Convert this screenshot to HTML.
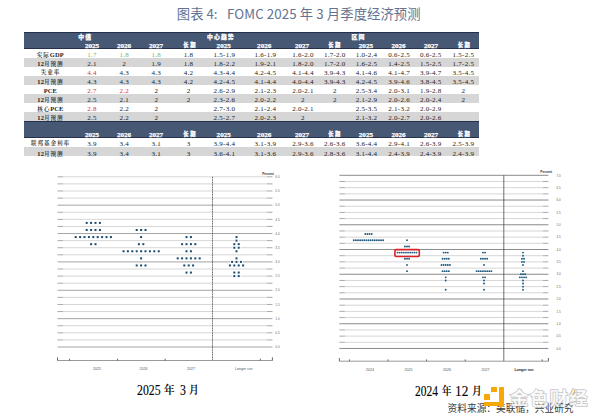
<!DOCTYPE html><html><head><meta charset="utf-8"><title>FOMC</title><style>
*{margin:0;padding:0;box-sizing:border-box}
html,body{width:600px;height:419px;background:#fff;overflow:hidden}
body{position:relative;font-family:"Liberation Serif","Noto Serif CJK SC",serif}
.a{position:absolute}
.t{position:absolute;white-space:nowrap;transform:translateX(-50%);line-height:1}
.num{font-family:"Liberation Serif",serif;font-size:7px;color:#1a1a1a;letter-spacing:0.25px}
.lab{font-family:"Liberation Serif","Noto Serif CJK SC",serif;font-size:5.6px;color:#1a1a1a;letter-spacing:0.9px;font-weight:600}
.hd{font-family:"Liberation Serif","Noto Sans CJK SC",serif;font-size:7.1px;-webkit-text-stroke:0.25px #fff;color:#fff;font-weight:bold}
.lt{font-size:6.4px;letter-spacing:0.2px}
.hs{font-size:5.3px !important;letter-spacing:1.5px !important}
.hg{font-family:"Noto Sans CJK SC",sans-serif;font-size:5.8px;color:#fff;font-weight:900;letter-spacing:1.2px;-webkit-text-stroke:0.25px #fff}
</style></head><body>
<div style="position:absolute;top:4px;font-family:'Noto Sans CJK SC','Liberation Sans',sans-serif;font-size:13.3px;line-height:19px;color:#637290;white-space:nowrap;letter-spacing:0.1px;left:176.8px">图表</div>
<div style="position:absolute;top:4px;font-family:'Noto Sans CJK SC','Liberation Sans',sans-serif;font-size:13.3px;line-height:19px;color:#637290;white-space:nowrap;letter-spacing:0.1px;left:206.4px">4:</div>
<div style="position:absolute;top:4px;font-family:'Noto Sans CJK SC','Liberation Sans',sans-serif;font-size:13.3px;line-height:19px;color:#637290;white-space:nowrap;letter-spacing:0.1px;left:227.0px">FOMC 2025 年 3 月季度经济预测</div>
<div class="a" style="left:24px;top:32px;width:454.5px;height:16.5px;background:#475874;border-top:1px solid #26304a;border-bottom:1px solid #26304a"></div>
<div class="a" style="left:24px;top:58px;width:454.5px;height:9px;background:#d7d6d6;"></div>
<div class="a" style="left:24px;top:76px;width:454.5px;height:9px;background:#d7d6d6;"></div>
<div class="a" style="left:24px;top:94px;width:454.5px;height:9px;background:#d7d6d6;"></div>
<div class="a" style="left:24px;top:112px;width:454.5px;height:9px;background:#d7d6d6;"></div>
<div class="a" style="left:24px;top:121px;width:454.5px;height:16.80000000000001px;background:#475874;border-top:1px solid #26304a;border-bottom:1px solid #26304a"></div>
<div class="a" style="left:24px;top:147.2px;width:454.5px;height:8.800000000000011px;background:#d7d6d6;"></div>
<div class="t hg" style="left:85.3px;top:33.8px;">中值</div>
<div class="t hg" style="left:221px;top:33.8px;">中心趋势</div>
<div class="t hg" style="left:358.5px;top:33.8px;">区间</div>
<div class="t hd" style="left:92px;top:42.6px;">2025</div>
<div class="t hd" style="left:124px;top:42.6px;">2026</div>
<div class="t hd" style="left:156px;top:42.6px;">2027</div>
<div class="t hg hs" style="left:190.15px;top:42.9px;">长期</div>
<div class="t hd" style="left:223.7px;top:42.6px;">2025</div>
<div class="t hd" style="left:264.2px;top:42.6px;">2026</div>
<div class="t hd" style="left:302px;top:42.6px;">2027</div>
<div class="t hg hs" style="left:334.95px;top:42.9px;">长期</div>
<div class="t hd" style="left:365.9px;top:42.6px;">2025</div>
<div class="t hd" style="left:398.5px;top:42.6px;">2026</div>
<div class="t hd" style="left:431px;top:42.6px;">2027</div>
<div class="t hg hs" style="left:464.45px;top:42.9px;">长期</div>
<div class="t hd" style="left:92px;top:131.8px;">2025</div>
<div class="t hd" style="left:124px;top:131.8px;">2026</div>
<div class="t hd" style="left:156px;top:131.8px;">2027</div>
<div class="t hg hs" style="left:190.15px;top:132.0px;">长期</div>
<div class="t hd" style="left:223.7px;top:131.8px;">2025</div>
<div class="t hd" style="left:264.2px;top:131.8px;">2026</div>
<div class="t hd" style="left:302px;top:131.8px;">2027</div>
<div class="t hg hs" style="left:334.95px;top:132.0px;">长期</div>
<div class="t hd" style="left:365.9px;top:131.8px;">2025</div>
<div class="t hd" style="left:398.5px;top:131.8px;">2026</div>
<div class="t hd" style="left:431px;top:131.8px;">2027</div>
<div class="t hg hs" style="left:464.45px;top:132.0px;">长期</div>
<div class="t lab" style="left:50.4px;top:51.8px;">实际<span class="lt">GDP</span></div>
<div class="t num" style="left:91.95px;top:51.8px;color:#7db45e;">1.7</div>
<div class="t num" style="left:124.15px;top:51.8px;color:#7db45e;">1.8</div>
<div class="t num" style="left:156.25px;top:51.8px;color:#7db45e;">1.8</div>
<div class="t num" style="left:188.55px;top:51.8px;">1.8</div>
<div class="t num" style="left:224.35px;top:51.8px;">1.5-1.9</div>
<div class="t num" style="left:265.34999999999997px;top:51.8px;">1.6-1.9</div>
<div class="t num" style="left:302.95px;top:51.8px;">1.6-2.0</div>
<div class="t num" style="left:334.75px;top:51.8px;">1.7-2.0</div>
<div class="t num" style="left:366.45px;top:51.8px;">1.0-2.4</div>
<div class="t num" style="left:399.15px;top:51.8px;">0.6-2.5</div>
<div class="t num" style="left:430.75px;top:51.8px;">0.6-2.5</div>
<div class="t num" style="left:463.34999999999997px;top:51.8px;">1.5-2.5</div>
<div class="t lab" style="left:50.4px;top:61.3px;"><span class="lt">12</span>月预测</div>
<div class="t num" style="left:91.95px;top:61.3px;">2.1</div>
<div class="t num" style="left:124.15px;top:61.3px;">2</div>
<div class="t num" style="left:156.25px;top:61.3px;">1.9</div>
<div class="t num" style="left:188.55px;top:61.3px;">1.8</div>
<div class="t num" style="left:224.35px;top:61.3px;">1.8-2.2</div>
<div class="t num" style="left:265.34999999999997px;top:61.3px;">1.9-2.1</div>
<div class="t num" style="left:302.95px;top:61.3px;">1.8-2.0</div>
<div class="t num" style="left:334.75px;top:61.3px;">1.7-2.0</div>
<div class="t num" style="left:366.45px;top:61.3px;">1.6-2.5</div>
<div class="t num" style="left:399.15px;top:61.3px;">1.4-2.5</div>
<div class="t num" style="left:430.75px;top:61.3px;">1.5-2.5</div>
<div class="t num" style="left:463.34999999999997px;top:61.3px;">1.7-2.5</div>
<div class="t lab" style="left:50.4px;top:70.3px;">失业率</div>
<div class="t num" style="left:91.95px;top:70.3px;color:#db3232;">4.4</div>
<div class="t num" style="left:124.15px;top:70.3px;">4.3</div>
<div class="t num" style="left:156.25px;top:70.3px;">4.3</div>
<div class="t num" style="left:188.55px;top:70.3px;">4.2</div>
<div class="t num" style="left:224.35px;top:70.3px;">4.3-4.4</div>
<div class="t num" style="left:265.34999999999997px;top:70.3px;">4.2-4.5</div>
<div class="t num" style="left:302.95px;top:70.3px;">4.1-4.4</div>
<div class="t num" style="left:334.75px;top:70.3px;">3.9-4.3</div>
<div class="t num" style="left:366.45px;top:70.3px;">4.1-4.6</div>
<div class="t num" style="left:399.15px;top:70.3px;">4.1-4.7</div>
<div class="t num" style="left:430.75px;top:70.3px;">3.9-4.7</div>
<div class="t num" style="left:463.34999999999997px;top:70.3px;">3.5-4.5</div>
<div class="t lab" style="left:50.4px;top:79.3px;"><span class="lt">12</span>月预测</div>
<div class="t num" style="left:91.95px;top:79.3px;">4.3</div>
<div class="t num" style="left:124.15px;top:79.3px;">4.3</div>
<div class="t num" style="left:156.25px;top:79.3px;">4.3</div>
<div class="t num" style="left:188.55px;top:79.3px;">4.2</div>
<div class="t num" style="left:224.35px;top:79.3px;">4.2-4.5</div>
<div class="t num" style="left:265.34999999999997px;top:79.3px;">4.1-4.4</div>
<div class="t num" style="left:302.95px;top:79.3px;">4.0-4.4</div>
<div class="t num" style="left:334.75px;top:79.3px;">3.9-4.3</div>
<div class="t num" style="left:366.45px;top:79.3px;">4.2-4.5</div>
<div class="t num" style="left:399.15px;top:79.3px;">3.9-4.6</div>
<div class="t num" style="left:430.75px;top:79.3px;">3.8-4.5</div>
<div class="t num" style="left:463.34999999999997px;top:79.3px;">3.5-4.5</div>
<div class="t lab" style="left:50.4px;top:88.3px;"><span class="lt">PCE</span></div>
<div class="t num" style="left:91.95px;top:88.3px;color:#db3232;">2.7</div>
<div class="t num" style="left:124.15px;top:88.3px;color:#db3232;">2.2</div>
<div class="t num" style="left:156.25px;top:88.3px;">2</div>
<div class="t num" style="left:188.55px;top:88.3px;">2</div>
<div class="t num" style="left:224.35px;top:88.3px;">2.6-2.9</div>
<div class="t num" style="left:265.34999999999997px;top:88.3px;">2.1-2.3</div>
<div class="t num" style="left:302.95px;top:88.3px;">2.0-2.1</div>
<div class="t num" style="left:334.75px;top:88.3px;">2</div>
<div class="t num" style="left:366.45px;top:88.3px;">2.5-3.4</div>
<div class="t num" style="left:399.15px;top:88.3px;">2.0-3.1</div>
<div class="t num" style="left:430.75px;top:88.3px;">1.9-2.8</div>
<div class="t num" style="left:463.34999999999997px;top:88.3px;">2</div>
<div class="t lab" style="left:50.4px;top:97.3px;"><span class="lt">12</span>月预测</div>
<div class="t num" style="left:91.95px;top:97.3px;">2.5</div>
<div class="t num" style="left:124.15px;top:97.3px;">2.1</div>
<div class="t num" style="left:156.25px;top:97.3px;">2</div>
<div class="t num" style="left:188.55px;top:97.3px;">2</div>
<div class="t num" style="left:224.35px;top:97.3px;">2.3-2.6</div>
<div class="t num" style="left:265.34999999999997px;top:97.3px;">2.0-2.2</div>
<div class="t num" style="left:302.95px;top:97.3px;">2</div>
<div class="t num" style="left:334.75px;top:97.3px;">2</div>
<div class="t num" style="left:366.45px;top:97.3px;">2.1-2.9</div>
<div class="t num" style="left:399.15px;top:97.3px;">2.0-2.6</div>
<div class="t num" style="left:430.75px;top:97.3px;">2.0-2.4</div>
<div class="t num" style="left:463.34999999999997px;top:97.3px;">2</div>
<div class="t lab" style="left:50.4px;top:106.3px;">核心<span class="lt">PCE</span></div>
<div class="t num" style="left:91.95px;top:106.3px;color:#db3232;">2.8</div>
<div class="t num" style="left:124.15px;top:106.3px;">2.2</div>
<div class="t num" style="left:156.25px;top:106.3px;">2</div>
<div class="t num" style="left:224.35px;top:106.3px;">2.7-3.0</div>
<div class="t num" style="left:265.34999999999997px;top:106.3px;">2.1-2.4</div>
<div class="t num" style="left:302.95px;top:106.3px;">2.0-2.1</div>
<div class="t num" style="left:366.45px;top:106.3px;">2.5-3.5</div>
<div class="t num" style="left:399.15px;top:106.3px;">2.1-3.2</div>
<div class="t num" style="left:430.75px;top:106.3px;">2.0-2.9</div>
<div class="t lab" style="left:50.4px;top:115.3px;"><span class="lt">12</span>月预测</div>
<div class="t num" style="left:91.95px;top:115.3px;">2.5</div>
<div class="t num" style="left:124.15px;top:115.3px;">2.2</div>
<div class="t num" style="left:156.25px;top:115.3px;">2</div>
<div class="t num" style="left:224.35px;top:115.3px;">2.5-2.7</div>
<div class="t num" style="left:265.34999999999997px;top:115.3px;">2.0-2.3</div>
<div class="t num" style="left:302.95px;top:115.3px;">2</div>
<div class="t num" style="left:366.45px;top:115.3px;">2.1-3.2</div>
<div class="t num" style="left:399.15px;top:115.3px;">2.0-2.7</div>
<div class="t num" style="left:430.75px;top:115.3px;">2.0-2.6</div>
<div class="t lab" style="left:50.4px;top:141.10000000000002px;">联邦基金利率</div>
<div class="t num" style="left:91.95px;top:141.10000000000002px;">3.9</div>
<div class="t num" style="left:124.15px;top:141.10000000000002px;">3.4</div>
<div class="t num" style="left:156.25px;top:141.10000000000002px;">3.1</div>
<div class="t num" style="left:188.55px;top:141.10000000000002px;">3</div>
<div class="t num" style="left:224.35px;top:141.10000000000002px;">3.9-4.4</div>
<div class="t num" style="left:265.34999999999997px;top:141.10000000000002px;">3.1-3.9</div>
<div class="t num" style="left:302.95px;top:141.10000000000002px;">2.9-3.6</div>
<div class="t num" style="left:334.75px;top:141.10000000000002px;">2.6-3.6</div>
<div class="t num" style="left:366.45px;top:141.10000000000002px;">3.6-4.4</div>
<div class="t num" style="left:399.15px;top:141.10000000000002px;">2.9-4.1</div>
<div class="t num" style="left:430.75px;top:141.10000000000002px;">2.6-3.9</div>
<div class="t num" style="left:463.34999999999997px;top:141.10000000000002px;">2.5-3.9</div>
<div class="t lab" style="left:50.4px;top:150.5px;"><span class="lt">12</span>月预测</div>
<div class="t num" style="left:91.95px;top:150.5px;">3.9</div>
<div class="t num" style="left:124.15px;top:150.5px;">3.4</div>
<div class="t num" style="left:156.25px;top:150.5px;">3.1</div>
<div class="t num" style="left:188.55px;top:150.5px;">3</div>
<div class="t num" style="left:224.35px;top:150.5px;">3.6-4.1</div>
<div class="t num" style="left:265.34999999999997px;top:150.5px;">3.1-3.6</div>
<div class="t num" style="left:302.95px;top:150.5px;">2.9-3.6</div>
<div class="t num" style="left:334.75px;top:150.5px;">2.8-3.6</div>
<div class="t num" style="left:366.45px;top:150.5px;">3.1-4.4</div>
<div class="t num" style="left:399.15px;top:150.5px;">2.4-3.9</div>
<div class="t num" style="left:430.75px;top:150.5px;">2.4-3.9</div>
<div class="t num" style="left:463.34999999999997px;top:150.5px;">2.4-3.9</div>
<svg class="a" style="left:0;top:0" width="600" height="419" viewBox="0 0 600 419" font-family="Liberation Sans, sans-serif"><line x1="63.0" y1="176.80" x2="267.0" y2="176.80" stroke="#c8c8c8" stroke-width="0.75"/><line x1="57.5" y1="176.80" x2="63.0" y2="176.80" stroke="#a0a0a0" stroke-width="0.9"/><line x1="267.0" y1="176.80" x2="272.5" y2="176.80" stroke="#a0a0a0" stroke-width="0.9"/><text x="275.3" y="178.00" font-size="3.1" fill="#666">6.0</text><line x1="63.0" y1="183.89" x2="267.0" y2="183.89" stroke="#c8c8c8" stroke-width="0.75"/><line x1="57.5" y1="183.89" x2="63.0" y2="183.89" stroke="#a0a0a0" stroke-width="0.9"/><line x1="267.0" y1="183.89" x2="272.5" y2="183.89" stroke="#a0a0a0" stroke-width="0.9"/><line x1="63.0" y1="190.99" x2="267.0" y2="190.99" stroke="#c8c8c8" stroke-width="0.75"/><line x1="57.5" y1="190.99" x2="63.0" y2="190.99" stroke="#a0a0a0" stroke-width="0.9"/><line x1="267.0" y1="190.99" x2="272.5" y2="190.99" stroke="#a0a0a0" stroke-width="0.9"/><text x="275.3" y="192.19" font-size="3.1" fill="#666">5.5</text><line x1="63.0" y1="198.08" x2="267.0" y2="198.08" stroke="#c8c8c8" stroke-width="0.75"/><line x1="57.5" y1="198.08" x2="63.0" y2="198.08" stroke="#a0a0a0" stroke-width="0.9"/><line x1="267.0" y1="198.08" x2="272.5" y2="198.08" stroke="#a0a0a0" stroke-width="0.9"/><line x1="57.5" y1="205.17" x2="272.5" y2="205.17" stroke="#9a9a9a" stroke-width="0.9"/><text x="275.3" y="206.37" font-size="3.1" fill="#666">5.0</text><line x1="63.0" y1="212.26" x2="267.0" y2="212.26" stroke="#c8c8c8" stroke-width="0.75"/><line x1="57.5" y1="212.26" x2="63.0" y2="212.26" stroke="#a0a0a0" stroke-width="0.9"/><line x1="267.0" y1="212.26" x2="272.5" y2="212.26" stroke="#a0a0a0" stroke-width="0.9"/><line x1="63.0" y1="219.36" x2="267.0" y2="219.36" stroke="#c8c8c8" stroke-width="0.75"/><line x1="57.5" y1="219.36" x2="63.0" y2="219.36" stroke="#a0a0a0" stroke-width="0.9"/><line x1="267.0" y1="219.36" x2="272.5" y2="219.36" stroke="#a0a0a0" stroke-width="0.9"/><text x="275.3" y="220.56" font-size="3.1" fill="#666">4.5</text><line x1="63.0" y1="226.45" x2="267.0" y2="226.45" stroke="#c8c8c8" stroke-width="0.75"/><line x1="57.5" y1="226.45" x2="63.0" y2="226.45" stroke="#a0a0a0" stroke-width="0.9"/><line x1="267.0" y1="226.45" x2="272.5" y2="226.45" stroke="#a0a0a0" stroke-width="0.9"/><line x1="57.5" y1="233.54" x2="272.5" y2="233.54" stroke="#9a9a9a" stroke-width="0.9"/><text x="275.3" y="234.74" font-size="3.1" fill="#666">4.0</text><line x1="63.0" y1="240.63" x2="267.0" y2="240.63" stroke="#c8c8c8" stroke-width="0.75"/><line x1="57.5" y1="240.63" x2="63.0" y2="240.63" stroke="#a0a0a0" stroke-width="0.9"/><line x1="267.0" y1="240.63" x2="272.5" y2="240.63" stroke="#a0a0a0" stroke-width="0.9"/><line x1="63.0" y1="247.73" x2="267.0" y2="247.73" stroke="#c8c8c8" stroke-width="0.75"/><line x1="57.5" y1="247.73" x2="63.0" y2="247.73" stroke="#a0a0a0" stroke-width="0.9"/><line x1="267.0" y1="247.73" x2="272.5" y2="247.73" stroke="#a0a0a0" stroke-width="0.9"/><text x="275.3" y="248.93" font-size="3.1" fill="#666">3.5</text><line x1="63.0" y1="254.82" x2="267.0" y2="254.82" stroke="#c8c8c8" stroke-width="0.75"/><line x1="57.5" y1="254.82" x2="63.0" y2="254.82" stroke="#a0a0a0" stroke-width="0.9"/><line x1="267.0" y1="254.82" x2="272.5" y2="254.82" stroke="#a0a0a0" stroke-width="0.9"/><line x1="57.5" y1="261.91" x2="272.5" y2="261.91" stroke="#9a9a9a" stroke-width="0.9"/><text x="275.3" y="263.11" font-size="3.1" fill="#666">3.0</text><line x1="63.0" y1="269.00" x2="267.0" y2="269.00" stroke="#c8c8c8" stroke-width="0.75"/><line x1="57.5" y1="269.00" x2="63.0" y2="269.00" stroke="#a0a0a0" stroke-width="0.9"/><line x1="267.0" y1="269.00" x2="272.5" y2="269.00" stroke="#a0a0a0" stroke-width="0.9"/><line x1="63.0" y1="276.10" x2="267.0" y2="276.10" stroke="#c8c8c8" stroke-width="0.75"/><line x1="57.5" y1="276.10" x2="63.0" y2="276.10" stroke="#a0a0a0" stroke-width="0.9"/><line x1="267.0" y1="276.10" x2="272.5" y2="276.10" stroke="#a0a0a0" stroke-width="0.9"/><text x="275.3" y="277.30" font-size="3.1" fill="#666">2.5</text><line x1="63.0" y1="283.19" x2="267.0" y2="283.19" stroke="#c8c8c8" stroke-width="0.75"/><line x1="57.5" y1="283.19" x2="63.0" y2="283.19" stroke="#a0a0a0" stroke-width="0.9"/><line x1="267.0" y1="283.19" x2="272.5" y2="283.19" stroke="#a0a0a0" stroke-width="0.9"/><line x1="57.5" y1="290.28" x2="272.5" y2="290.28" stroke="#9a9a9a" stroke-width="0.9"/><text x="275.3" y="291.48" font-size="3.1" fill="#666">2.0</text><line x1="63.0" y1="297.37" x2="267.0" y2="297.37" stroke="#c8c8c8" stroke-width="0.75"/><line x1="57.5" y1="297.37" x2="63.0" y2="297.37" stroke="#a0a0a0" stroke-width="0.9"/><line x1="267.0" y1="297.37" x2="272.5" y2="297.37" stroke="#a0a0a0" stroke-width="0.9"/><line x1="63.0" y1="304.47" x2="267.0" y2="304.47" stroke="#c8c8c8" stroke-width="0.75"/><line x1="57.5" y1="304.47" x2="63.0" y2="304.47" stroke="#a0a0a0" stroke-width="0.9"/><line x1="267.0" y1="304.47" x2="272.5" y2="304.47" stroke="#a0a0a0" stroke-width="0.9"/><text x="275.3" y="305.67" font-size="3.1" fill="#666">1.5</text><line x1="63.0" y1="311.56" x2="267.0" y2="311.56" stroke="#c8c8c8" stroke-width="0.75"/><line x1="57.5" y1="311.56" x2="63.0" y2="311.56" stroke="#a0a0a0" stroke-width="0.9"/><line x1="267.0" y1="311.56" x2="272.5" y2="311.56" stroke="#a0a0a0" stroke-width="0.9"/><line x1="57.5" y1="318.65" x2="272.5" y2="318.65" stroke="#9a9a9a" stroke-width="0.9"/><text x="275.3" y="319.85" font-size="3.1" fill="#666">1.0</text><line x1="63.0" y1="325.74" x2="267.0" y2="325.74" stroke="#c8c8c8" stroke-width="0.75"/><line x1="57.5" y1="325.74" x2="63.0" y2="325.74" stroke="#a0a0a0" stroke-width="0.9"/><line x1="267.0" y1="325.74" x2="272.5" y2="325.74" stroke="#a0a0a0" stroke-width="0.9"/><line x1="63.0" y1="332.84" x2="267.0" y2="332.84" stroke="#c8c8c8" stroke-width="0.75"/><line x1="57.5" y1="332.84" x2="63.0" y2="332.84" stroke="#a0a0a0" stroke-width="0.9"/><line x1="267.0" y1="332.84" x2="272.5" y2="332.84" stroke="#a0a0a0" stroke-width="0.9"/><text x="275.3" y="334.04" font-size="3.1" fill="#666">0.5</text><line x1="63.0" y1="339.93" x2="267.0" y2="339.93" stroke="#c8c8c8" stroke-width="0.75"/><line x1="57.5" y1="339.93" x2="63.0" y2="339.93" stroke="#a0a0a0" stroke-width="0.9"/><line x1="267.0" y1="339.93" x2="272.5" y2="339.93" stroke="#a0a0a0" stroke-width="0.9"/><line x1="57.5" y1="347.02" x2="272.5" y2="347.02" stroke="#9a9a9a" stroke-width="0.9"/><text x="275.3" y="348.22" font-size="3.1" fill="#666">0.0</text><line x1="212.5" y1="176.8" x2="212.5" y2="360.5" stroke="#333" stroke-width="0.7" stroke-dasharray="1.2 0.5"/><line x1="57.5" y1="360.5" x2="272.5" y2="360.5" stroke="#808080" stroke-width="0.8"/><line x1="57.5" y1="360.5" x2="57.5" y2="357.3" stroke="#444" stroke-width="0.8"/><line x1="69.5" y1="360.5" x2="69.5" y2="358.7" stroke="#444" stroke-width="0.8"/><line x1="117.5" y1="360.5" x2="117.5" y2="358.7" stroke="#444" stroke-width="0.8"/><line x1="165.2" y1="360.5" x2="165.2" y2="358.7" stroke="#444" stroke-width="0.8"/><line x1="260.4" y1="360.5" x2="260.4" y2="358.7" stroke="#444" stroke-width="0.8"/><line x1="272.4" y1="360.5" x2="272.4" y2="357.3" stroke="#444" stroke-width="0.8"/><text x="97" y="370.0" font-size="3.6" fill="#555" text-anchor="middle">2025</text><text x="143.5" y="370.0" font-size="3.6" fill="#555" text-anchor="middle">2026</text><text x="191" y="370.0" font-size="3.6" fill="#555" text-anchor="middle">2027</text><text x="243.7" y="370.0" font-size="3.6" fill="#555" text-anchor="middle">Longer run</text><text x="273.9" y="174.6" font-size="3.2" fill="#333" font-weight="bold" text-anchor="end">Percent</text><rect x="84.80" y="221.00" width="3.8" height="3.8" fill="#fff"/><rect x="85.70" y="221.90" width="2.0" height="2.0" fill="#184a6e"/><rect x="89.20" y="221.00" width="3.8" height="3.8" fill="#fff"/><rect x="90.10" y="221.90" width="2.0" height="2.0" fill="#184a6e"/><rect x="93.60" y="221.00" width="3.8" height="3.8" fill="#fff"/><rect x="94.50" y="221.90" width="2.0" height="2.0" fill="#184a6e"/><rect x="98.00" y="221.00" width="3.8" height="3.8" fill="#fff"/><rect x="98.90" y="221.90" width="2.0" height="2.0" fill="#184a6e"/><rect x="84.80" y="228.09" width="3.8" height="3.8" fill="#fff"/><rect x="85.70" y="228.99" width="2.0" height="2.0" fill="#184a6e"/><rect x="89.20" y="228.09" width="3.8" height="3.8" fill="#fff"/><rect x="90.10" y="228.99" width="2.0" height="2.0" fill="#184a6e"/><rect x="93.60" y="228.09" width="3.8" height="3.8" fill="#fff"/><rect x="94.50" y="228.99" width="2.0" height="2.0" fill="#184a6e"/><rect x="98.00" y="228.09" width="3.8" height="3.8" fill="#fff"/><rect x="98.90" y="228.99" width="2.0" height="2.0" fill="#184a6e"/><rect x="73.80" y="235.19" width="3.8" height="3.8" fill="#fff"/><rect x="74.70" y="236.09" width="2.0" height="2.0" fill="#184a6e"/><rect x="78.20" y="235.19" width="3.8" height="3.8" fill="#fff"/><rect x="79.10" y="236.09" width="2.0" height="2.0" fill="#184a6e"/><rect x="82.60" y="235.19" width="3.8" height="3.8" fill="#fff"/><rect x="83.50" y="236.09" width="2.0" height="2.0" fill="#184a6e"/><rect x="87.00" y="235.19" width="3.8" height="3.8" fill="#fff"/><rect x="87.90" y="236.09" width="2.0" height="2.0" fill="#184a6e"/><rect x="91.40" y="235.19" width="3.8" height="3.8" fill="#fff"/><rect x="92.30" y="236.09" width="2.0" height="2.0" fill="#184a6e"/><rect x="95.80" y="235.19" width="3.8" height="3.8" fill="#fff"/><rect x="96.70" y="236.09" width="2.0" height="2.0" fill="#184a6e"/><rect x="100.20" y="235.19" width="3.8" height="3.8" fill="#fff"/><rect x="101.10" y="236.09" width="2.0" height="2.0" fill="#184a6e"/><rect x="104.60" y="235.19" width="3.8" height="3.8" fill="#fff"/><rect x="105.50" y="236.09" width="2.0" height="2.0" fill="#184a6e"/><rect x="109.00" y="235.19" width="3.8" height="3.8" fill="#fff"/><rect x="109.90" y="236.09" width="2.0" height="2.0" fill="#184a6e"/><rect x="89.20" y="242.28" width="3.8" height="3.8" fill="#fff"/><rect x="90.10" y="243.18" width="2.0" height="2.0" fill="#184a6e"/><rect x="93.60" y="242.28" width="3.8" height="3.8" fill="#fff"/><rect x="94.50" y="243.18" width="2.0" height="2.0" fill="#184a6e"/><rect x="134.80" y="228.09" width="3.8" height="3.8" fill="#fff"/><rect x="135.70" y="228.99" width="2.0" height="2.0" fill="#184a6e"/><rect x="139.20" y="228.09" width="3.8" height="3.8" fill="#fff"/><rect x="140.10" y="228.99" width="2.0" height="2.0" fill="#184a6e"/><rect x="143.60" y="228.09" width="3.8" height="3.8" fill="#fff"/><rect x="144.50" y="228.99" width="2.0" height="2.0" fill="#184a6e"/><rect x="139.20" y="235.19" width="3.8" height="3.8" fill="#fff"/><rect x="140.10" y="236.09" width="2.0" height="2.0" fill="#184a6e"/><rect x="137.00" y="242.28" width="3.8" height="3.8" fill="#fff"/><rect x="137.90" y="243.18" width="2.0" height="2.0" fill="#184a6e"/><rect x="141.40" y="242.28" width="3.8" height="3.8" fill="#fff"/><rect x="142.30" y="243.18" width="2.0" height="2.0" fill="#184a6e"/><rect x="121.60" y="249.37" width="3.8" height="3.8" fill="#fff"/><rect x="122.50" y="250.27" width="2.0" height="2.0" fill="#184a6e"/><rect x="126.00" y="249.37" width="3.8" height="3.8" fill="#fff"/><rect x="126.90" y="250.27" width="2.0" height="2.0" fill="#184a6e"/><rect x="130.40" y="249.37" width="3.8" height="3.8" fill="#fff"/><rect x="131.30" y="250.27" width="2.0" height="2.0" fill="#184a6e"/><rect x="134.80" y="249.37" width="3.8" height="3.8" fill="#fff"/><rect x="135.70" y="250.27" width="2.0" height="2.0" fill="#184a6e"/><rect x="139.20" y="249.37" width="3.8" height="3.8" fill="#fff"/><rect x="140.10" y="250.27" width="2.0" height="2.0" fill="#184a6e"/><rect x="143.60" y="249.37" width="3.8" height="3.8" fill="#fff"/><rect x="144.50" y="250.27" width="2.0" height="2.0" fill="#184a6e"/><rect x="148.00" y="249.37" width="3.8" height="3.8" fill="#fff"/><rect x="148.90" y="250.27" width="2.0" height="2.0" fill="#184a6e"/><rect x="152.40" y="249.37" width="3.8" height="3.8" fill="#fff"/><rect x="153.30" y="250.27" width="2.0" height="2.0" fill="#184a6e"/><rect x="156.80" y="249.37" width="3.8" height="3.8" fill="#fff"/><rect x="157.70" y="250.27" width="2.0" height="2.0" fill="#184a6e"/><rect x="139.20" y="256.46" width="3.8" height="3.8" fill="#fff"/><rect x="140.10" y="257.36" width="2.0" height="2.0" fill="#184a6e"/><rect x="134.80" y="263.56" width="3.8" height="3.8" fill="#fff"/><rect x="135.70" y="264.46" width="2.0" height="2.0" fill="#184a6e"/><rect x="139.20" y="263.56" width="3.8" height="3.8" fill="#fff"/><rect x="140.10" y="264.46" width="2.0" height="2.0" fill="#184a6e"/><rect x="143.60" y="263.56" width="3.8" height="3.8" fill="#fff"/><rect x="144.50" y="264.46" width="2.0" height="2.0" fill="#184a6e"/><rect x="184.60" y="235.19" width="3.8" height="3.8" fill="#fff"/><rect x="185.50" y="236.09" width="2.0" height="2.0" fill="#184a6e"/><rect x="189.00" y="235.19" width="3.8" height="3.8" fill="#fff"/><rect x="189.90" y="236.09" width="2.0" height="2.0" fill="#184a6e"/><rect x="180.20" y="242.28" width="3.8" height="3.8" fill="#fff"/><rect x="181.10" y="243.18" width="2.0" height="2.0" fill="#184a6e"/><rect x="184.60" y="242.28" width="3.8" height="3.8" fill="#fff"/><rect x="185.50" y="243.18" width="2.0" height="2.0" fill="#184a6e"/><rect x="189.00" y="242.28" width="3.8" height="3.8" fill="#fff"/><rect x="189.90" y="243.18" width="2.0" height="2.0" fill="#184a6e"/><rect x="193.40" y="242.28" width="3.8" height="3.8" fill="#fff"/><rect x="194.30" y="243.18" width="2.0" height="2.0" fill="#184a6e"/><rect x="184.60" y="249.37" width="3.8" height="3.8" fill="#fff"/><rect x="185.50" y="250.27" width="2.0" height="2.0" fill="#184a6e"/><rect x="189.00" y="249.37" width="3.8" height="3.8" fill="#fff"/><rect x="189.90" y="250.27" width="2.0" height="2.0" fill="#184a6e"/><rect x="175.80" y="256.46" width="3.8" height="3.8" fill="#fff"/><rect x="176.70" y="257.36" width="2.0" height="2.0" fill="#184a6e"/><rect x="180.20" y="256.46" width="3.8" height="3.8" fill="#fff"/><rect x="181.10" y="257.36" width="2.0" height="2.0" fill="#184a6e"/><rect x="184.60" y="256.46" width="3.8" height="3.8" fill="#fff"/><rect x="185.50" y="257.36" width="2.0" height="2.0" fill="#184a6e"/><rect x="189.00" y="256.46" width="3.8" height="3.8" fill="#fff"/><rect x="189.90" y="257.36" width="2.0" height="2.0" fill="#184a6e"/><rect x="193.40" y="256.46" width="3.8" height="3.8" fill="#fff"/><rect x="194.30" y="257.36" width="2.0" height="2.0" fill="#184a6e"/><rect x="197.80" y="256.46" width="3.8" height="3.8" fill="#fff"/><rect x="198.70" y="257.36" width="2.0" height="2.0" fill="#184a6e"/><rect x="182.40" y="263.56" width="3.8" height="3.8" fill="#fff"/><rect x="183.30" y="264.46" width="2.0" height="2.0" fill="#184a6e"/><rect x="186.80" y="263.56" width="3.8" height="3.8" fill="#fff"/><rect x="187.70" y="264.46" width="2.0" height="2.0" fill="#184a6e"/><rect x="191.20" y="263.56" width="3.8" height="3.8" fill="#fff"/><rect x="192.10" y="264.46" width="2.0" height="2.0" fill="#184a6e"/><rect x="184.60" y="270.65" width="3.8" height="3.8" fill="#fff"/><rect x="185.50" y="271.55" width="2.0" height="2.0" fill="#184a6e"/><rect x="189.00" y="270.65" width="3.8" height="3.8" fill="#fff"/><rect x="189.90" y="271.55" width="2.0" height="2.0" fill="#184a6e"/><rect x="234.60" y="235.19" width="3.8" height="3.8" fill="#fff"/><rect x="235.50" y="236.09" width="2.0" height="2.0" fill="#184a6e"/><rect x="234.60" y="238.73" width="3.8" height="3.8" fill="#fff"/><rect x="235.50" y="239.63" width="2.0" height="2.0" fill="#184a6e"/><rect x="232.40" y="242.28" width="3.8" height="3.8" fill="#fff"/><rect x="233.30" y="243.18" width="2.0" height="2.0" fill="#184a6e"/><rect x="236.80" y="242.28" width="3.8" height="3.8" fill="#fff"/><rect x="237.70" y="243.18" width="2.0" height="2.0" fill="#184a6e"/><rect x="232.40" y="245.83" width="3.8" height="3.8" fill="#fff"/><rect x="233.30" y="246.73" width="2.0" height="2.0" fill="#184a6e"/><rect x="236.80" y="245.83" width="3.8" height="3.8" fill="#fff"/><rect x="237.70" y="246.73" width="2.0" height="2.0" fill="#184a6e"/><rect x="234.60" y="249.37" width="3.8" height="3.8" fill="#fff"/><rect x="235.50" y="250.27" width="2.0" height="2.0" fill="#184a6e"/><rect x="234.60" y="256.46" width="3.8" height="3.8" fill="#fff"/><rect x="235.50" y="257.36" width="2.0" height="2.0" fill="#184a6e"/><rect x="230.20" y="260.01" width="3.8" height="3.8" fill="#fff"/><rect x="231.10" y="260.91" width="2.0" height="2.0" fill="#184a6e"/><rect x="234.60" y="260.01" width="3.8" height="3.8" fill="#fff"/><rect x="235.50" y="260.91" width="2.0" height="2.0" fill="#184a6e"/><rect x="239.00" y="260.01" width="3.8" height="3.8" fill="#fff"/><rect x="239.90" y="260.91" width="2.0" height="2.0" fill="#184a6e"/><rect x="228.00" y="263.56" width="3.8" height="3.8" fill="#fff"/><rect x="228.90" y="264.46" width="2.0" height="2.0" fill="#184a6e"/><rect x="232.40" y="263.56" width="3.8" height="3.8" fill="#fff"/><rect x="233.30" y="264.46" width="2.0" height="2.0" fill="#184a6e"/><rect x="236.80" y="263.56" width="3.8" height="3.8" fill="#fff"/><rect x="237.70" y="264.46" width="2.0" height="2.0" fill="#184a6e"/><rect x="241.20" y="263.56" width="3.8" height="3.8" fill="#fff"/><rect x="242.10" y="264.46" width="2.0" height="2.0" fill="#184a6e"/><rect x="232.40" y="270.65" width="3.8" height="3.8" fill="#fff"/><rect x="233.30" y="271.55" width="2.0" height="2.0" fill="#184a6e"/><rect x="236.80" y="270.65" width="3.8" height="3.8" fill="#fff"/><rect x="237.70" y="271.55" width="2.0" height="2.0" fill="#184a6e"/><rect x="232.40" y="274.20" width="3.8" height="3.8" fill="#fff"/><rect x="233.30" y="275.10" width="2.0" height="2.0" fill="#184a6e"/><rect x="236.80" y="274.20" width="3.8" height="3.8" fill="#fff"/><rect x="237.70" y="275.10" width="2.0" height="2.0" fill="#184a6e"/><line x1="339.4" y1="175.30" x2="548.4" y2="175.30" stroke="#7e7e7e" stroke-width="0.9"/><text x="556.5" y="176.50" font-size="3.1" fill="#666">7.0</text><line x1="344.9" y1="181.49" x2="542.9" y2="181.49" stroke="#c8c8c8" stroke-width="0.75"/><line x1="339.4" y1="181.49" x2="344.9" y2="181.49" stroke="#a0a0a0" stroke-width="0.9"/><line x1="542.9" y1="181.49" x2="548.4" y2="181.49" stroke="#a0a0a0" stroke-width="0.9"/><line x1="344.9" y1="187.67" x2="542.9" y2="187.67" stroke="#c8c8c8" stroke-width="0.75"/><line x1="339.4" y1="187.67" x2="344.9" y2="187.67" stroke="#a0a0a0" stroke-width="0.9"/><line x1="542.9" y1="187.67" x2="548.4" y2="187.67" stroke="#a0a0a0" stroke-width="0.9"/><text x="556.5" y="188.87" font-size="3.1" fill="#666">6.5</text><line x1="344.9" y1="193.86" x2="542.9" y2="193.86" stroke="#c8c8c8" stroke-width="0.75"/><line x1="339.4" y1="193.86" x2="344.9" y2="193.86" stroke="#a0a0a0" stroke-width="0.9"/><line x1="542.9" y1="193.86" x2="548.4" y2="193.86" stroke="#a0a0a0" stroke-width="0.9"/><line x1="339.4" y1="200.04" x2="548.4" y2="200.04" stroke="#7e7e7e" stroke-width="0.9"/><text x="556.5" y="201.24" font-size="3.1" fill="#666">6.0</text><line x1="344.9" y1="206.23" x2="542.9" y2="206.23" stroke="#c8c8c8" stroke-width="0.75"/><line x1="339.4" y1="206.23" x2="344.9" y2="206.23" stroke="#a0a0a0" stroke-width="0.9"/><line x1="542.9" y1="206.23" x2="548.4" y2="206.23" stroke="#a0a0a0" stroke-width="0.9"/><line x1="344.9" y1="212.41" x2="542.9" y2="212.41" stroke="#c8c8c8" stroke-width="0.75"/><line x1="339.4" y1="212.41" x2="344.9" y2="212.41" stroke="#a0a0a0" stroke-width="0.9"/><line x1="542.9" y1="212.41" x2="548.4" y2="212.41" stroke="#a0a0a0" stroke-width="0.9"/><text x="556.5" y="213.61" font-size="3.1" fill="#666">5.5</text><line x1="344.9" y1="218.59" x2="542.9" y2="218.59" stroke="#c8c8c8" stroke-width="0.75"/><line x1="339.4" y1="218.59" x2="344.9" y2="218.59" stroke="#a0a0a0" stroke-width="0.9"/><line x1="542.9" y1="218.59" x2="548.4" y2="218.59" stroke="#a0a0a0" stroke-width="0.9"/><line x1="339.4" y1="224.78" x2="548.4" y2="224.78" stroke="#7e7e7e" stroke-width="0.9"/><text x="556.5" y="225.98" font-size="3.1" fill="#666">5.0</text><line x1="344.9" y1="230.97" x2="542.9" y2="230.97" stroke="#c8c8c8" stroke-width="0.75"/><line x1="339.4" y1="230.97" x2="344.9" y2="230.97" stroke="#a0a0a0" stroke-width="0.9"/><line x1="542.9" y1="230.97" x2="548.4" y2="230.97" stroke="#a0a0a0" stroke-width="0.9"/><line x1="344.9" y1="237.15" x2="542.9" y2="237.15" stroke="#c8c8c8" stroke-width="0.75"/><line x1="339.4" y1="237.15" x2="344.9" y2="237.15" stroke="#a0a0a0" stroke-width="0.9"/><line x1="542.9" y1="237.15" x2="548.4" y2="237.15" stroke="#a0a0a0" stroke-width="0.9"/><text x="556.5" y="238.35" font-size="3.1" fill="#666">4.5</text><line x1="344.9" y1="243.34" x2="542.9" y2="243.34" stroke="#c8c8c8" stroke-width="0.75"/><line x1="339.4" y1="243.34" x2="344.9" y2="243.34" stroke="#a0a0a0" stroke-width="0.9"/><line x1="542.9" y1="243.34" x2="548.4" y2="243.34" stroke="#a0a0a0" stroke-width="0.9"/><line x1="339.4" y1="249.52" x2="548.4" y2="249.52" stroke="#7e7e7e" stroke-width="0.9"/><text x="556.5" y="250.72" font-size="3.1" fill="#666">4.0</text><line x1="344.9" y1="255.71" x2="542.9" y2="255.71" stroke="#c8c8c8" stroke-width="0.75"/><line x1="339.4" y1="255.71" x2="344.9" y2="255.71" stroke="#a0a0a0" stroke-width="0.9"/><line x1="542.9" y1="255.71" x2="548.4" y2="255.71" stroke="#a0a0a0" stroke-width="0.9"/><line x1="344.9" y1="261.89" x2="542.9" y2="261.89" stroke="#c8c8c8" stroke-width="0.75"/><line x1="339.4" y1="261.89" x2="344.9" y2="261.89" stroke="#a0a0a0" stroke-width="0.9"/><line x1="542.9" y1="261.89" x2="548.4" y2="261.89" stroke="#a0a0a0" stroke-width="0.9"/><text x="556.5" y="263.09" font-size="3.1" fill="#666">3.5</text><line x1="344.9" y1="268.07" x2="542.9" y2="268.07" stroke="#c8c8c8" stroke-width="0.75"/><line x1="339.4" y1="268.07" x2="344.9" y2="268.07" stroke="#a0a0a0" stroke-width="0.9"/><line x1="542.9" y1="268.07" x2="548.4" y2="268.07" stroke="#a0a0a0" stroke-width="0.9"/><line x1="339.4" y1="274.26" x2="548.4" y2="274.26" stroke="#7e7e7e" stroke-width="0.9"/><text x="556.5" y="275.46" font-size="3.1" fill="#666">3.0</text><line x1="344.9" y1="280.44" x2="542.9" y2="280.44" stroke="#c8c8c8" stroke-width="0.75"/><line x1="339.4" y1="280.44" x2="344.9" y2="280.44" stroke="#a0a0a0" stroke-width="0.9"/><line x1="542.9" y1="280.44" x2="548.4" y2="280.44" stroke="#a0a0a0" stroke-width="0.9"/><line x1="344.9" y1="286.63" x2="542.9" y2="286.63" stroke="#c8c8c8" stroke-width="0.75"/><line x1="339.4" y1="286.63" x2="344.9" y2="286.63" stroke="#a0a0a0" stroke-width="0.9"/><line x1="542.9" y1="286.63" x2="548.4" y2="286.63" stroke="#a0a0a0" stroke-width="0.9"/><text x="556.5" y="287.83" font-size="3.1" fill="#666">2.5</text><line x1="344.9" y1="292.81" x2="542.9" y2="292.81" stroke="#c8c8c8" stroke-width="0.75"/><line x1="339.4" y1="292.81" x2="344.9" y2="292.81" stroke="#a0a0a0" stroke-width="0.9"/><line x1="542.9" y1="292.81" x2="548.4" y2="292.81" stroke="#a0a0a0" stroke-width="0.9"/><line x1="339.4" y1="299.00" x2="548.4" y2="299.00" stroke="#7e7e7e" stroke-width="0.9"/><text x="556.5" y="300.20" font-size="3.1" fill="#666">2.0</text><line x1="344.9" y1="305.19" x2="542.9" y2="305.19" stroke="#c8c8c8" stroke-width="0.75"/><line x1="339.4" y1="305.19" x2="344.9" y2="305.19" stroke="#a0a0a0" stroke-width="0.9"/><line x1="542.9" y1="305.19" x2="548.4" y2="305.19" stroke="#a0a0a0" stroke-width="0.9"/><line x1="344.9" y1="311.37" x2="542.9" y2="311.37" stroke="#c8c8c8" stroke-width="0.75"/><line x1="339.4" y1="311.37" x2="344.9" y2="311.37" stroke="#a0a0a0" stroke-width="0.9"/><line x1="542.9" y1="311.37" x2="548.4" y2="311.37" stroke="#a0a0a0" stroke-width="0.9"/><text x="556.5" y="312.57" font-size="3.1" fill="#666">1.5</text><line x1="344.9" y1="317.56" x2="542.9" y2="317.56" stroke="#c8c8c8" stroke-width="0.75"/><line x1="339.4" y1="317.56" x2="344.9" y2="317.56" stroke="#a0a0a0" stroke-width="0.9"/><line x1="542.9" y1="317.56" x2="548.4" y2="317.56" stroke="#a0a0a0" stroke-width="0.9"/><line x1="339.4" y1="323.74" x2="548.4" y2="323.74" stroke="#7e7e7e" stroke-width="0.9"/><text x="556.5" y="324.94" font-size="3.1" fill="#666">1.0</text><line x1="344.9" y1="329.93" x2="542.9" y2="329.93" stroke="#c8c8c8" stroke-width="0.75"/><line x1="339.4" y1="329.93" x2="344.9" y2="329.93" stroke="#a0a0a0" stroke-width="0.9"/><line x1="542.9" y1="329.93" x2="548.4" y2="329.93" stroke="#a0a0a0" stroke-width="0.9"/><line x1="344.9" y1="336.11" x2="542.9" y2="336.11" stroke="#c8c8c8" stroke-width="0.75"/><line x1="339.4" y1="336.11" x2="344.9" y2="336.11" stroke="#a0a0a0" stroke-width="0.9"/><line x1="542.9" y1="336.11" x2="548.4" y2="336.11" stroke="#a0a0a0" stroke-width="0.9"/><text x="556.5" y="337.31" font-size="3.1" fill="#666">0.5</text><line x1="344.9" y1="342.29" x2="542.9" y2="342.29" stroke="#c8c8c8" stroke-width="0.75"/><line x1="339.4" y1="342.29" x2="344.9" y2="342.29" stroke="#a0a0a0" stroke-width="0.9"/><line x1="542.9" y1="342.29" x2="548.4" y2="342.29" stroke="#a0a0a0" stroke-width="0.9"/><line x1="339.4" y1="348.48" x2="548.4" y2="348.48" stroke="#7e7e7e" stroke-width="0.9"/><text x="556.5" y="349.68" font-size="3.1" fill="#666">0.0</text><line x1="503.8" y1="175.3" x2="503.8" y2="361.2" stroke="#333" stroke-width="0.7"/><line x1="339.4" y1="361.2" x2="548.4" y2="361.2" stroke="#808080" stroke-width="0.8"/><line x1="339.4" y1="361.2" x2="339.4" y2="358.0" stroke="#444" stroke-width="0.8"/><line x1="349.4" y1="361.2" x2="349.4" y2="359.4" stroke="#444" stroke-width="0.8"/><line x1="388" y1="361.2" x2="388" y2="359.4" stroke="#444" stroke-width="0.8"/><line x1="426.6" y1="361.2" x2="426.6" y2="359.4" stroke="#444" stroke-width="0.8"/><line x1="465.2" y1="361.2" x2="465.2" y2="359.4" stroke="#444" stroke-width="0.8"/><line x1="542.2" y1="361.2" x2="542.2" y2="359.4" stroke="#444" stroke-width="0.8"/><line x1="548.4" y1="361.2" x2="548.4" y2="358.0" stroke="#444" stroke-width="0.8"/><text x="370" y="370.7" font-size="3.6" fill="#555" text-anchor="middle">2024</text><text x="408.6" y="370.7" font-size="3.6" fill="#555" text-anchor="middle">2025</text><text x="447" y="370.7" font-size="3.6" fill="#555" text-anchor="middle">2026</text><text x="485.5" y="370.7" font-size="3.6" fill="#555" text-anchor="middle">2027</text><text x="524" y="370.7" font-size="3.6" font-weight="bold" fill="#222" text-anchor="middle">Longer run</text><text x="552" y="173" font-size="3.2" fill="#333" font-weight="bold" text-anchor="end">Percent</text><circle cx="365.35" cy="234.06" r="0.95" fill="#1c5880"/><circle cx="367.45" cy="234.06" r="0.95" fill="#1c5880"/><circle cx="369.55" cy="234.06" r="0.95" fill="#1c5880"/><circle cx="371.65" cy="234.06" r="0.95" fill="#1c5880"/><circle cx="353.80" cy="240.24" r="0.95" fill="#1c5880"/><circle cx="355.90" cy="240.24" r="0.95" fill="#1c5880"/><circle cx="358.00" cy="240.24" r="0.95" fill="#1c5880"/><circle cx="360.10" cy="240.24" r="0.95" fill="#1c5880"/><circle cx="362.20" cy="240.24" r="0.95" fill="#1c5880"/><circle cx="364.30" cy="240.24" r="0.95" fill="#1c5880"/><circle cx="366.40" cy="240.24" r="0.95" fill="#1c5880"/><circle cx="368.50" cy="240.24" r="0.95" fill="#1c5880"/><circle cx="370.60" cy="240.24" r="0.95" fill="#1c5880"/><circle cx="372.70" cy="240.24" r="0.95" fill="#1c5880"/><circle cx="374.80" cy="240.24" r="0.95" fill="#1c5880"/><circle cx="376.90" cy="240.24" r="0.95" fill="#1c5880"/><circle cx="379.00" cy="240.24" r="0.95" fill="#1c5880"/><circle cx="381.10" cy="240.24" r="0.95" fill="#1c5880"/><circle cx="383.20" cy="240.24" r="0.95" fill="#1c5880"/><circle cx="407.00" cy="240.24" r="0.95" fill="#1c5880"/><circle cx="404.90" cy="246.43" r="0.95" fill="#1c5880"/><circle cx="407.00" cy="246.43" r="0.95" fill="#1c5880"/><circle cx="409.10" cy="246.43" r="0.95" fill="#1c5880"/><circle cx="397.55" cy="252.61" r="0.95" fill="#1c5880"/><circle cx="399.65" cy="252.61" r="0.95" fill="#1c5880"/><circle cx="401.75" cy="252.61" r="0.95" fill="#1c5880"/><circle cx="403.85" cy="252.61" r="0.95" fill="#1c5880"/><circle cx="405.95" cy="252.61" r="0.95" fill="#1c5880"/><circle cx="408.05" cy="252.61" r="0.95" fill="#1c5880"/><circle cx="410.15" cy="252.61" r="0.95" fill="#1c5880"/><circle cx="412.25" cy="252.61" r="0.95" fill="#1c5880"/><circle cx="414.35" cy="252.61" r="0.95" fill="#1c5880"/><circle cx="416.45" cy="252.61" r="0.95" fill="#1c5880"/><circle cx="404.90" cy="258.80" r="0.95" fill="#1c5880"/><circle cx="407.00" cy="258.80" r="0.95" fill="#1c5880"/><circle cx="409.10" cy="258.80" r="0.95" fill="#1c5880"/><circle cx="407.00" cy="264.98" r="0.95" fill="#1c5880"/><circle cx="407.00" cy="271.17" r="0.95" fill="#1c5880"/><circle cx="443.60" cy="252.61" r="0.95" fill="#1c5880"/><circle cx="445.70" cy="252.61" r="0.95" fill="#1c5880"/><circle cx="447.80" cy="252.61" r="0.95" fill="#1c5880"/><circle cx="442.55" cy="258.80" r="0.95" fill="#1c5880"/><circle cx="444.65" cy="258.80" r="0.95" fill="#1c5880"/><circle cx="446.75" cy="258.80" r="0.95" fill="#1c5880"/><circle cx="448.85" cy="258.80" r="0.95" fill="#1c5880"/><circle cx="441.50" cy="264.98" r="0.95" fill="#1c5880"/><circle cx="443.60" cy="264.98" r="0.95" fill="#1c5880"/><circle cx="445.70" cy="264.98" r="0.95" fill="#1c5880"/><circle cx="447.80" cy="264.98" r="0.95" fill="#1c5880"/><circle cx="449.90" cy="264.98" r="0.95" fill="#1c5880"/><circle cx="442.55" cy="271.17" r="0.95" fill="#1c5880"/><circle cx="444.65" cy="271.17" r="0.95" fill="#1c5880"/><circle cx="446.75" cy="271.17" r="0.95" fill="#1c5880"/><circle cx="448.85" cy="271.17" r="0.95" fill="#1c5880"/><circle cx="445.70" cy="277.35" r="0.95" fill="#1c5880"/><circle cx="445.70" cy="280.44" r="0.95" fill="#1c5880"/><circle cx="445.70" cy="289.72" r="0.95" fill="#1c5880"/><circle cx="482.95" cy="252.61" r="0.95" fill="#1c5880"/><circle cx="485.05" cy="252.61" r="0.95" fill="#1c5880"/><circle cx="480.85" cy="258.80" r="0.95" fill="#1c5880"/><circle cx="482.95" cy="258.80" r="0.95" fill="#1c5880"/><circle cx="485.05" cy="258.80" r="0.95" fill="#1c5880"/><circle cx="487.15" cy="258.80" r="0.95" fill="#1c5880"/><circle cx="484.00" cy="264.98" r="0.95" fill="#1c5880"/><circle cx="476.65" cy="271.17" r="0.95" fill="#1c5880"/><circle cx="478.75" cy="271.17" r="0.95" fill="#1c5880"/><circle cx="480.85" cy="271.17" r="0.95" fill="#1c5880"/><circle cx="482.95" cy="271.17" r="0.95" fill="#1c5880"/><circle cx="485.05" cy="271.17" r="0.95" fill="#1c5880"/><circle cx="487.15" cy="271.17" r="0.95" fill="#1c5880"/><circle cx="489.25" cy="271.17" r="0.95" fill="#1c5880"/><circle cx="491.35" cy="271.17" r="0.95" fill="#1c5880"/><circle cx="482.95" cy="277.35" r="0.95" fill="#1c5880"/><circle cx="485.05" cy="277.35" r="0.95" fill="#1c5880"/><circle cx="484.00" cy="280.44" r="0.95" fill="#1c5880"/><circle cx="484.00" cy="283.54" r="0.95" fill="#1c5880"/><circle cx="484.00" cy="289.72" r="0.95" fill="#1c5880"/><circle cx="523.00" cy="252.61" r="0.95" fill="#1c5880"/><circle cx="523.00" cy="255.71" r="0.95" fill="#1c5880"/><circle cx="521.95" cy="258.80" r="0.95" fill="#1c5880"/><circle cx="524.05" cy="258.80" r="0.95" fill="#1c5880"/><circle cx="521.95" cy="261.89" r="0.95" fill="#1c5880"/><circle cx="524.05" cy="261.89" r="0.95" fill="#1c5880"/><circle cx="523.00" cy="264.98" r="0.95" fill="#1c5880"/><circle cx="523.00" cy="271.17" r="0.95" fill="#1c5880"/><circle cx="520.90" cy="274.26" r="0.95" fill="#1c5880"/><circle cx="523.00" cy="274.26" r="0.95" fill="#1c5880"/><circle cx="525.10" cy="274.26" r="0.95" fill="#1c5880"/><circle cx="519.85" cy="277.35" r="0.95" fill="#1c5880"/><circle cx="521.95" cy="277.35" r="0.95" fill="#1c5880"/><circle cx="524.05" cy="277.35" r="0.95" fill="#1c5880"/><circle cx="526.15" cy="277.35" r="0.95" fill="#1c5880"/><circle cx="523.00" cy="280.44" r="0.95" fill="#1c5880"/><circle cx="523.00" cy="283.54" r="0.95" fill="#1c5880"/><circle cx="523.00" cy="286.63" r="0.95" fill="#1c5880"/><circle cx="523.00" cy="289.72" r="0.95" fill="#1c5880"/><rect x="394.9" y="249.6" width="24.4" height="6.9" rx="1.2" fill="none" stroke="#dc2226" stroke-width="1.6"/></svg>
<div class="a" style="left:137.3px;top:384.2px;font-family:'Liberation Serif',serif;font-size:14px;line-height:1;color:#000;white-space:nowrap;font-weight:400;-webkit-text-stroke:0.12px #000;transform:scaleX(0.84);transform-origin:0 0">2025</div>
<div class="a" style="left:164.4px;top:384.2px;font-family:'Noto Serif CJK SC','Liberation Serif',serif;font-size:11.5px;line-height:1;color:#000;white-space:nowrap;font-weight:600;-webkit-text-stroke:0.1px #000;transform:scaleX(0.92);transform-origin:0 0">年</div>
<div class="a" style="left:179.6px;top:384.2px;font-family:'Liberation Serif',serif;font-size:14px;line-height:1;color:#000;white-space:nowrap;font-weight:400;-webkit-text-stroke:0.12px #000;transform:scaleX(0.84);transform-origin:0 0">3</div>
<div class="a" style="left:188.6px;top:384.2px;font-family:'Noto Serif CJK SC','Liberation Serif',serif;font-size:11.5px;line-height:1;color:#000;white-space:nowrap;font-weight:600;-webkit-text-stroke:0.1px #000;transform:scaleX(0.85);transform-origin:0 0">月</div>
<div class="a" style="left:415.2px;top:384.6px;font-family:'Liberation Serif',serif;font-size:14px;line-height:1;color:#000;white-space:nowrap;font-weight:400;-webkit-text-stroke:0.12px #000;transform:scaleX(0.82);transform-origin:0 0">2024</div>
<div class="a" style="left:441.6px;top:384.6px;font-family:'Noto Serif CJK SC','Liberation Serif',serif;font-size:11.5px;line-height:1;color:#000;white-space:nowrap;font-weight:600;-webkit-text-stroke:0.1px #000;transform:scaleX(0.82);transform-origin:0 0">年</div>
<div class="a" style="left:455.2px;top:384.6px;font-family:'Liberation Serif',serif;font-size:14px;line-height:1;color:#000;white-space:nowrap;font-weight:400;-webkit-text-stroke:0.12px #000;transform:scaleX(0.95);transform-origin:0 0">12</div>
<div class="a" style="left:471.8px;top:384.6px;font-family:'Noto Serif CJK SC','Liberation Serif',serif;font-size:11.5px;line-height:1;color:#000;white-space:nowrap;font-weight:600;-webkit-text-stroke:0.1px #000;transform:scaleX(0.85);transform-origin:0 0">月</div>
<div class="a" style="left:447.6px;top:402px;font-family:'Noto Sans CJK SC','Liberation Sans',sans-serif;font-size:9.7px;line-height:13px;color:#3a3a3a;white-space:nowrap">资料来源：美联储，兴业研究</div>
<div class="a" style="left:491.3px;top:387.3px;width:5.3px;height:4.9px;border-radius:0.6px;background:#f6a808"></div>
<div class="a" style="left:499.1px;top:387px;width:4.9px;height:19.5px;border-radius:0.6px;background:#f6a808"></div>
<div class="a" style="left:483.6px;top:401.8px;width:20.4px;height:4.7px;border-radius:0.6px;background:#f6a808"></div>
<div class="a" style="left:483.9px;top:394.4px;width:6.2px;height:5.9px;border-radius:0.6px;background:#f6a808"></div>
<div class="a" style="left:571px;top:388.8px;width:2.6px;height:7.4px;border-radius:1.2px;background:#eaa21c;transform:rotate(29deg)"></div>
<div class="a" style="left:510px;top:384.5px;font-family:'Noto Sans CJK SC','Liberation Sans',sans-serif;font-weight:700;font-size:18.5px;line-height:24px;color:rgba(255,255,255,0.85);-webkit-text-stroke:1.5px rgba(140,140,140,0.5);paint-order:stroke fill;white-space:nowrap;letter-spacing:1.2px">金色财经</div>
</body></html>
